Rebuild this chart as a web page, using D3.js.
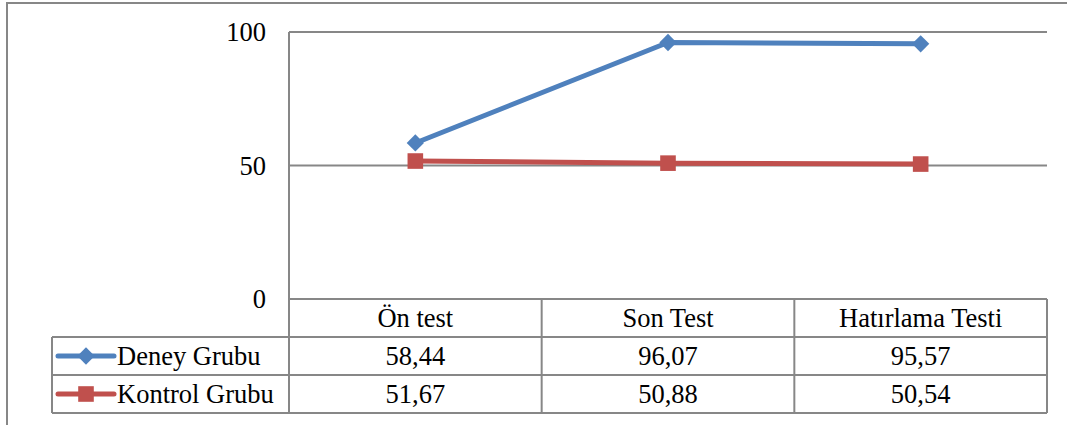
<!DOCTYPE html>
<html>
<head>
<meta charset="utf-8">
<script src="https://cdn.jsdelivr.net/npm/d3@7"></script>
<style>
  body { margin: 0; background: #fff; }
</style>
</head>
<body>
<div id="chart"></div>
<script>
const categories = ['Ön test', 'Son Test', 'Hatırlama Testi'];
const seriesNames = ['Deney Grubu', 'Kontrol Grubu'];
const deneyValues = [58.44, 96.07, 95.57];
const kontrolValues = [51.67, 50.88, 50.54];
const valueLabels = [['58,44', '96,07', '95,57'], ['51,67', '50,88', '50,54']];
const yTicks = [0, 50, 100];

const width = 1067, height = 425;
const plot = { left: 289, right: 1047, top: 32, bottom: 299 };
const rowH = 38;
const legendLeft = 52;
const grey = '#878787';
const colors = ['#4f81bd', '#c0504d'];
const fontSize = 26.5;
const serif = 'Times New Roman, Liberation Serif, Tinos, DejaVu Serif, serif';

const svg = d3.select('#chart').append('svg')
  .attr('width', width)
  .attr('height', height)
  .style('display', 'block')
  .style('font-family', serif);

// outer frame
svg.append('rect')
  .attr('x', 7).attr('y', 3)
  .attr('width', width + 20).attr('height', height + 20)
  .attr('fill', 'none').attr('stroke', grey).attr('stroke-width', 2);

const x = d3.scaleBand().domain(categories).range([plot.left, plot.right]);
const y = d3.scaleLinear().domain([0, 100]).range([plot.bottom, plot.top]);

// gridlines
svg.append('g')
  .selectAll('line')
  .data(yTicks.filter(d => d > 0))
  .join('line')
  .attr('x1', plot.left).attr('x2', plot.right)
  .attr('y1', d => y(d)).attr('y2', d => y(d))
  .attr('stroke', grey).attr('stroke-width', 2);

// y axis labels
svg.append('g')
  .selectAll('text')
  .data(yTicks)
  .join('text')
  .attr('x', 266)
  .attr('y', d => y(d) + 9)
  .attr('text-anchor', 'end')
  .style('font-family', serif)
  .attr('font-size', fontSize)
  .text(d => d);

// data table
const tableTop = plot.bottom;
const tableBottom = tableTop + rowH * 3;
const tbl = svg.append('g').attr('stroke', grey).attr('stroke-width', 2);

[0, 1, 2, 3].forEach(i => {
  tbl.append('line')
    .attr('x1', i === 0 ? plot.left : legendLeft).attr('x2', plot.right)
    .attr('y1', tableTop + i * rowH).attr('y2', tableTop + i * rowH);
});
tbl.append('line')
  .attr('x1', legendLeft).attr('x2', legendLeft)
  .attr('y1', tableTop + rowH).attr('y2', tableBottom);
tbl.append('line')
  .attr('x1', plot.left).attr('x2', plot.left)
  .attr('y1', plot.top).attr('y2', tableBottom);
categories.forEach(c => {
  tbl.append('line')
    .attr('x1', x(c) + x.bandwidth()).attr('x2', x(c) + x.bandwidth())
    .attr('y1', tableTop).attr('y2', tableBottom);
});

// header text
svg.append('g')
  .selectAll('text')
  .data(categories)
  .join('text')
  .attr('x', d => x(d) + x.bandwidth() / 2)
  .attr('y', tableTop + rowH / 2 + 9)
  .attr('text-anchor', 'middle')
  .style('font-family', serif)
  .attr('font-size', fontSize)
  .text(d => d);

// value text
valueLabels.forEach((row, r) => {
  svg.append('g')
    .selectAll('text')
    .data(row)
    .join('text')
    .attr('x', (d, i) => x(categories[i]) + x.bandwidth() / 2)
    .attr('y', tableTop + rowH * (r + 1) + rowH / 2 + 9)
    .attr('text-anchor', 'middle')
    .style('font-family', serif)
    .attr('font-size', fontSize)
    .text(d => d);
});

const diamond = d3.symbol().type(d3.symbolDiamond2).size(190);
const square = d3.symbol().type(d3.symbolSquare2).size(310);
const symbols = [diamond, square];

// legend keys in table
seriesNames.forEach((name, i) => {
  const cy = tableTop + rowH * (i + 1) + rowH / 2;
  svg.append('line')
    .attr('x1', 58).attr('x2', 114)
    .attr('y1', cy).attr('y2', cy)
    .attr('stroke', colors[i]).attr('stroke-width', 5)
    .attr('stroke-linecap', 'round');
  svg.append('path')
    .attr('d', symbols[i]())
    .attr('transform', `translate(86,${cy})`)
    .attr('fill', colors[i]);
  svg.append('text')
    .attr('x', 117).attr('y', cy + 9)
    .style('font-family', serif)
    .attr('font-size', fontSize)
    .text(name);
});

// series lines
const line = d3.line()
  .x((d, i) => x(categories[i]) + x.bandwidth() / 2)
  .y(d => y(d));

[deneyValues, kontrolValues].forEach((vals, s) => {
  svg.append('path')
    .datum(vals)
    .attr('d', line)
    .attr('fill', 'none')
    .attr('stroke', colors[s])
    .attr('stroke-width', 5)
    .attr('stroke-linejoin', 'round');
});
[deneyValues, kontrolValues].forEach((vals, s) => {
  svg.append('g')
    .selectAll('path')
    .data(vals)
    .join('path')
    .attr('d', symbols[s]())
    .attr('transform', (d, i) => `translate(${x(categories[i]) + x.bandwidth() / 2},${y(d)})`)
    .attr('fill', colors[s]);
});
</script>
</body>
</html>
